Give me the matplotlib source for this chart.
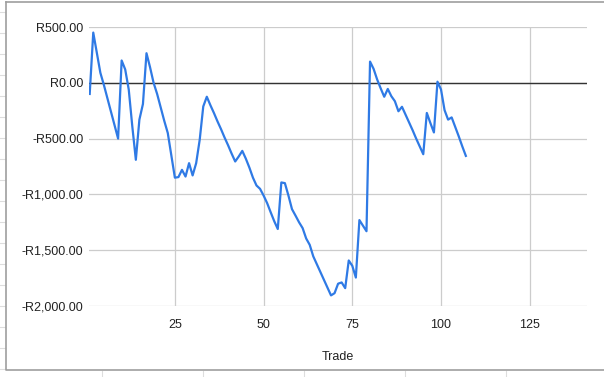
import matplotlib
matplotlib.use("Agg")
import matplotlib.pyplot as plt
from matplotlib.lines import Line2D

# cumulative P&L per trade
trade = list(range(1, 108))
pnl = [-100, 450, 270, 90, -20, -140, -260, -380, -500, 200,
       120, -60, -390, -690, -330, -190, 265, 140, 0, -100,
       -220, -340, -450, -650, -850, -845, -780, -840, -720, -830,
       -720, -510, -212, -125, -200, -270, -345, -415, -490, -560,
       -635, -705, -660, -610, -680, -760, -850, -920, -950, -1010,
       -1078, -1160, -1240, -1310, -893, -899, -1010, -1132, -1190, -1250,
       -1302, -1395, -1452, -1555, -1625, -1695, -1765, -1835, -1905, -1885,
       -1800, -1789, -1840, -1592, -1640, -1745, -1230, -1280, -1330, 190,
       125, 30, -50, -125, -55, -120, -165, -255, -215, -285,
       -355, -425, -500, -570, -640, -270, -360, -445, 10, -60,
       -245, -330, -310, -395, -480, -570, -655]

yticks = [500, 0, -500, -1000, -1500, -2000]
ytick_labels = ["R500.00", "R0.00", "-R500.00", "-R1,000.00", "-R1,500.00", "-R2,000.00"]
xticks = [25, 50, 75, 100, 125]

plt.rcParams['font.family'] = ['Liberation Sans', 'DejaVu Sans']

W, H = 604, 377
fig = plt.figure(figsize=(W / 100, H / 100), dpi=100)

# spreadsheet cell lines around the embedded chart
for yy in range(12, 370, 21):
    fig.add_artist(Line2D([0, 5 / W], [1 - yy / H] * 2, color="#dddddd", lw=0.8))
for xx in [102, 203, 304, 405, 506]:
    fig.add_artist(Line2D([xx / W] * 2, [0, 1 - 371 / H], color="#dddddd", lw=0.8))
# chart frame
fig.add_artist(Line2D([6 / W, 6 / W, 1], [1 - 2 / H, 1 - 370 / H, 1 - 370 / H], color="#9e9e9e", lw=1.2))
fig.add_artist(Line2D([6 / W, 1], [1 - 2 / H, 1 - 2 / H], color="#9e9e9e", lw=1.2))

ax = fig.add_axes([89 / W, 1 - 306 / H, (586.5 - 89) / W, (306 - 27) / H])
ax.plot(trade, pnl, color="#2f7ae5", lw=1.6, zorder=3)
ax.axhline(0, color="#333333", lw=1.0, zorder=2)

ax.set_xlim(0.8, 141)
ax.set_ylim(-2000, 500)
ax.set_yticks(yticks)
ax.set_yticklabels(ytick_labels)
ax.set_xticks(xticks)
ax.grid(True, color="#cccccc", lw=0.9)
ax.set_axisbelow(True)
for s in ax.spines.values():
    s.set_visible(False)
ax.tick_params(length=0, labelsize=9, colors="#222222")
ax.tick_params(axis="y", pad=4)
ax.tick_params(axis="x", pad=9)
ax.set_xlabel("Trade", fontsize=9, color="#222222", labelpad=15)

fig.savefig("out.png", dpi=100)
